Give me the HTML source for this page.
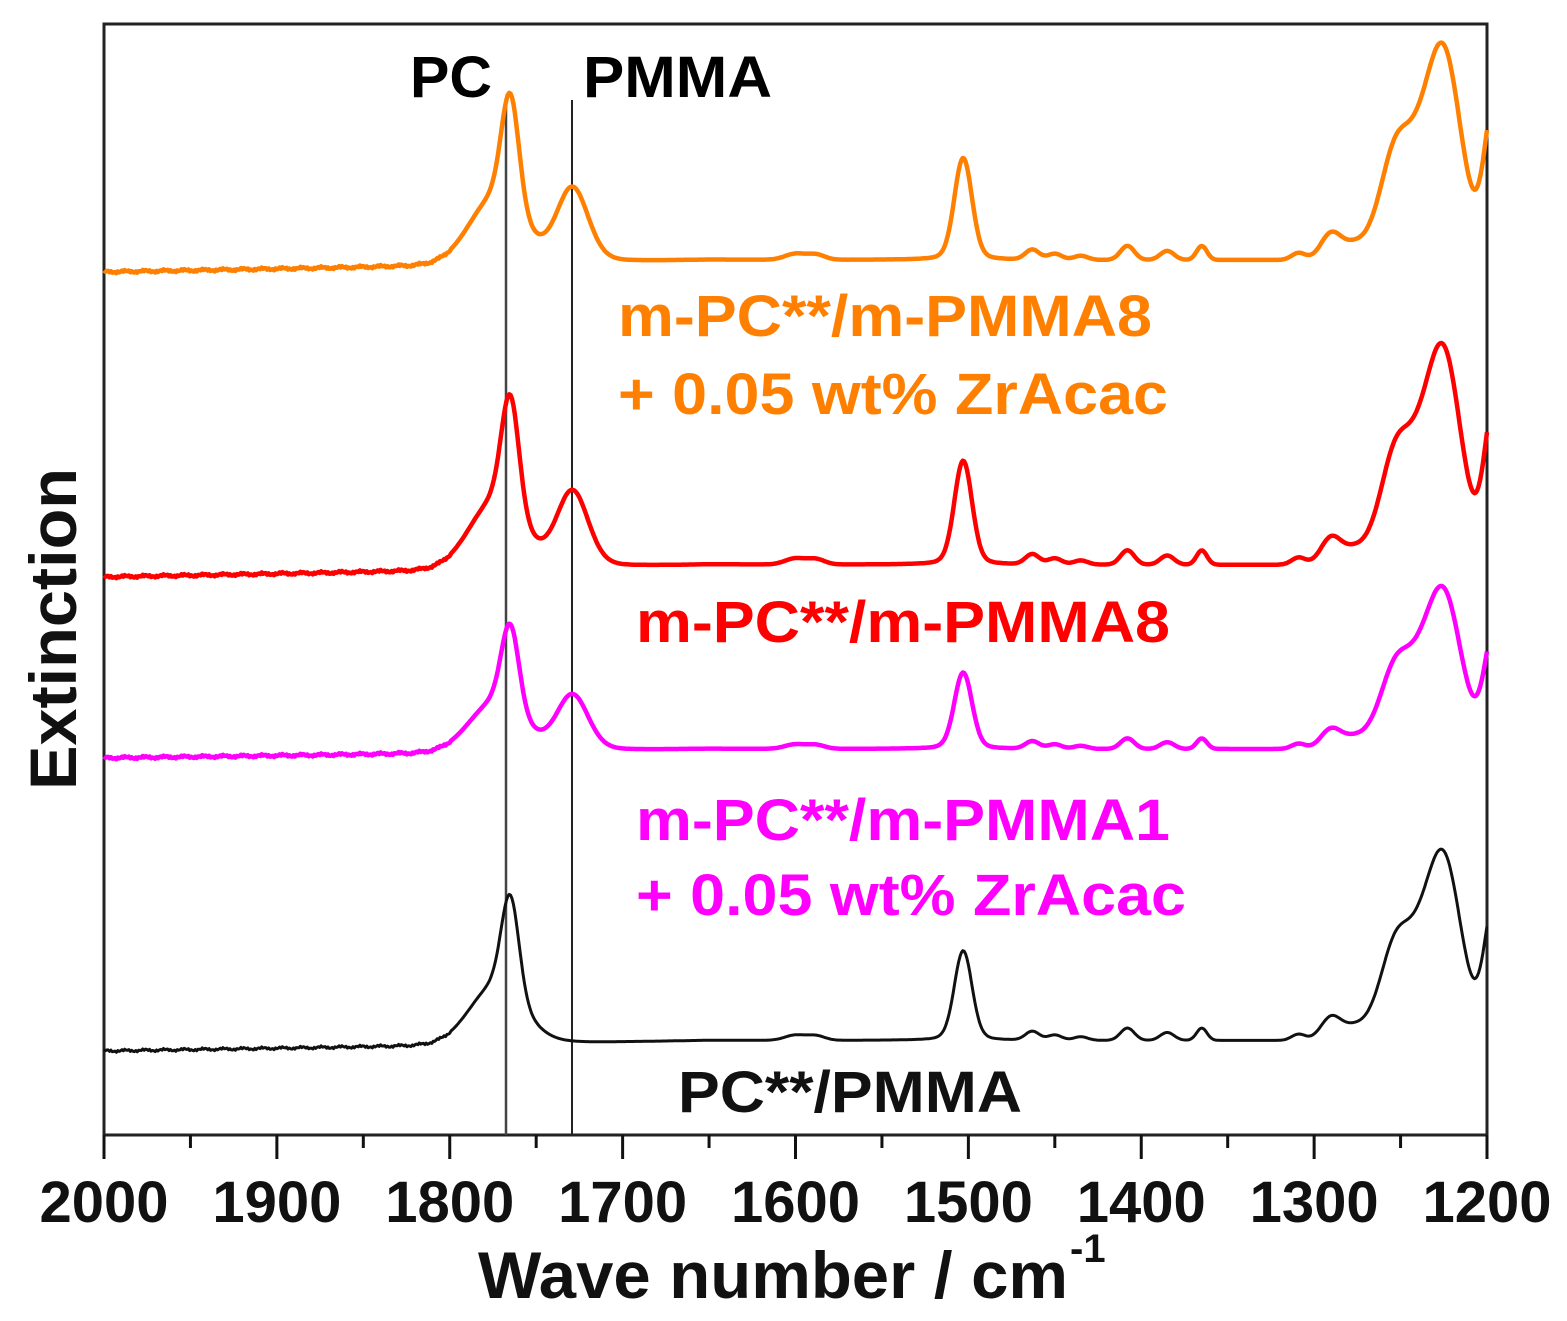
<!DOCTYPE html>
<html><head><meta charset="utf-8"><style>
html,body{margin:0;padding:0;background:#fff}
svg{display:block}
text{font-family:"Liberation Sans",Arial,sans-serif;font-weight:bold}
</style></head><body>
<svg id="s" width="1567" height="1321" viewBox="0 0 1567 1321" xmlns="http://www.w3.org/2000/svg">
<rect x="104" y="24" width="1383" height="1111" fill="#fff" stroke="#222" stroke-width="3"/>
<line x1="506" y1="100" x2="506" y2="1135" stroke="#444" stroke-width="2.5"/>
<line x1="572" y1="100" x2="572" y2="1135" stroke="#222" stroke-width="2"/>
<g id="curves"></g>
<g id="ticks" stroke="#111" stroke-width="3"></g>
<text x="410" y="97" font-size="58" textLength="82" lengthAdjust="spacingAndGlyphs">PC</text>
<text x="583" y="97" font-size="58" textLength="189" lengthAdjust="spacingAndGlyphs">PMMA</text>
<g font-size="58" lengthAdjust="spacingAndGlyphs">
<text x="618" y="336" fill="#FF8000" textLength="534" lengthAdjust="spacingAndGlyphs">m-PC**/m-PMMA8</text>
<text x="618" y="414" fill="#FF8000" textLength="550" lengthAdjust="spacingAndGlyphs">+ 0.05 wt% ZrAcac</text>
<text x="636" y="642" fill="#FF0000" textLength="534" lengthAdjust="spacingAndGlyphs">m-PC**/m-PMMA8</text>
<text x="636" y="840" fill="#FF00FF" textLength="534" lengthAdjust="spacingAndGlyphs">m-PC**/m-PMMA1</text>
<text x="636" y="915" fill="#FF00FF" textLength="550" lengthAdjust="spacingAndGlyphs">+ 0.05 wt% ZrAcac</text>
<text x="678" y="1112" fill="#111" textLength="344" lengthAdjust="spacingAndGlyphs">PC**/PMMA</text>
</g>
<g id="tl" font-size="58" text-anchor="middle" fill="#111"></g>
<text x="478" y="1298" font-size="66" textLength="590" lengthAdjust="spacingAndGlyphs" fill="#111">Wave number / cm</text>
<text x="1070" y="1262" font-size="40" fill="#111">-1</text>
<text transform="translate(76,790) rotate(-90)" font-size="66" textLength="322" lengthAdjust="spacingAndGlyphs" fill="#111">Extinction</text>
</svg>
<script>
function X(w){return 104+(2000-w)*1383/800;}
function g(w,c,s){var d=(w-c)/s;return Math.exp(-0.5*d*d);}
function L(w,c,h){var d=(w-c)/h;return 1/(1+d*d);}
function prof(w,pm){
 var v=0;
 v+= (w<1800? 6:6*(2000-w)/200);
 v+= (w<1650? 6:(w<1800?6*(1800-w)/150:0));
 v+=105*g(w,1765,5)+60*g(w,1774,15)+15*L(w,1765,14);
 v+=pm*(62*g(w,1729,9)+12*L(w,1729,12));
 v+=6*g(w,1600,6)+5*g(w,1588,5);
 v+=88*g(w,1503,5)+14*L(w,1503,8);
 v+=10*g(w,1463,4)+6*g(w,1450,4)+4*g(w,1435,4)+14*g(w,1408,4)+9*g(w,1385,4)+14*g(w,1365,3);
 v+=7*g(w,1309,4)+26*g(w,1290,6)+6*g(w,1278,5);
 v+=125*g(w,1238,18)+120*g(w,1224,9)+35*g(w,1254,7);
 v+=160*g(w,1195,6);
 return v;
}
var series=[["#FF8000",272,1.0,1],["#FF0000",577,1.02,1],["#FF00FF",758,0.75,1],["#111",1051,0.88,0]];
var out="";
series.forEach(function(s){
 var d="";
 for(var w=2000;w>=1200;w-=0.8){
  var n=(w>1800?(Math.sin(w*7.3)+Math.sin(w*3.1))*0.8:0);
  var y=s[1]-s[2]*prof(w,s[3])+n;
  d+=(d?"L":"M")+X(w).toFixed(1)+" "+y.toFixed(1);
 }
 out+='<path d="'+d+'" fill="none" stroke="'+s[0]+'" stroke-width="'+(s[0]=="#111"?3:4.5)+'" stroke-linejoin="round"/>';
});
document.getElementById("curves").innerHTML=out;
var t="",l="";
for(var w=2000;w>=1200;w-=50){
 var x=X(w),maj=(w%100==0);
 t+='<line x1="'+x+'" y1="1135" x2="'+x+'" y2="'+(maj?1159:1148)+'"/>';
 if(maj)l+='<text x="'+x+'" y="1222">'+w+'</text>';
}
document.getElementById("ticks").innerHTML=t;
document.getElementById("tl").innerHTML=l;
</script>
</body></html>
